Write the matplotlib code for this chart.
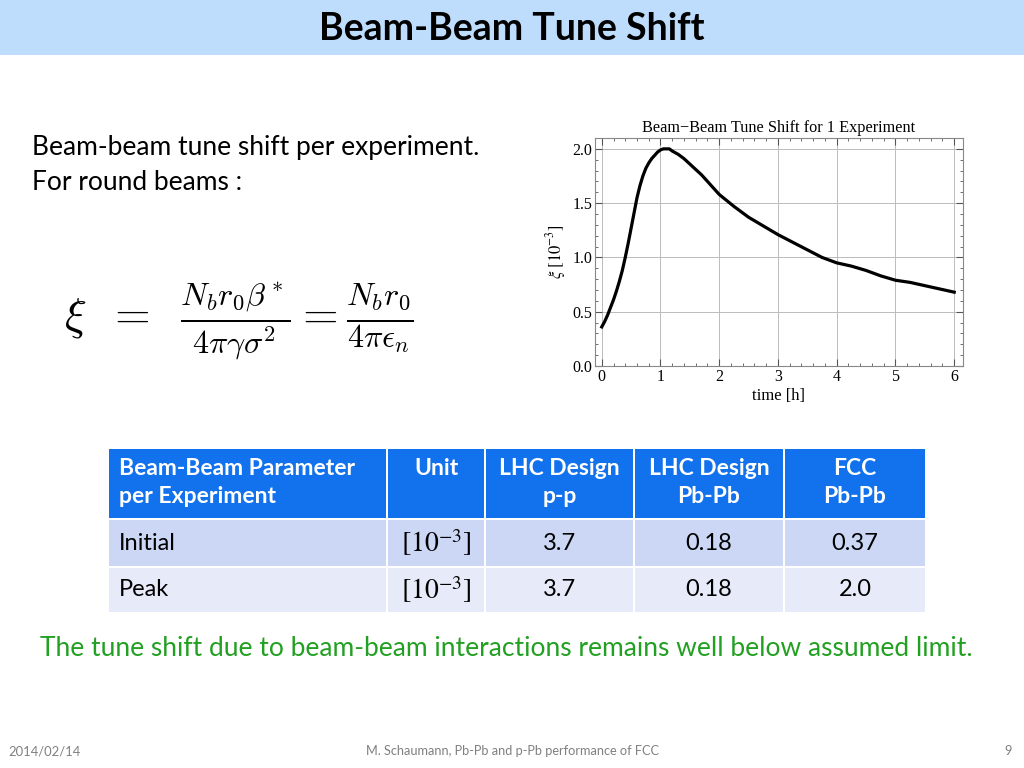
import matplotlib
matplotlib.use("Agg")
import matplotlib.pyplot as plt
from matplotlib.patches import Rectangle
from matplotlib.ticker import MultipleLocator

# curve
t_hours = [0.0, 0.05, 0.1, 0.15, 0.2, 0.25, 0.3, 0.35, 0.4, 0.45, 0.5, 0.55, 0.6, 0.65, 0.7,
           0.75, 0.8, 0.85, 0.9, 0.95, 1.0, 1.05, 1.1, 1.15, 1.2, 1.3, 1.4, 1.5, 1.6, 1.7,
           1.8, 1.9, 2.0, 2.25, 2.5, 2.75, 3.0, 3.25, 3.5, 3.75, 4.0, 4.25, 4.5, 4.75, 5.0,
           5.25, 5.5, 5.75, 6.0]
xi_values = [0.36, 0.41, 0.47, 0.54, 0.61, 0.69, 0.78, 0.88, 1.0, 1.13, 1.27, 1.41, 1.55, 1.66, 1.75,
             1.82, 1.87, 1.91, 1.94, 1.97, 1.99, 2.0, 2.0, 2.0, 1.98, 1.95, 1.91, 1.86, 1.81, 1.76,
             1.70, 1.64, 1.58, 1.47, 1.37, 1.29, 1.21, 1.14, 1.07, 1.0, 0.95, 0.92, 0.88, 0.83, 0.79,
             0.77, 0.74, 0.71, 0.68]

# table contents
col_headers = ["Beam-Beam Parameter\nper Experiment", "Unit", "LHC Design\np-p", "LHC Design\nPb-Pb", "FCC\nPb-Pb"]
row_names = ["Initial", "Peak"]
row_units = [r"$[10^{-3}]$", r"$[10^{-3}]$"]
lhc_pp = ["3.7", "3.7"]
lhc_pbpb = ["0.18", "0.18"]
fcc_pbpb = ["0.37", "2.0"]

sans = ["Lato", "DejaVu Sans"]
serif = "Liberation Serif"

fig = plt.figure(figsize=(10.24, 7.68), dpi=100)
bg = fig.add_axes([0, 0, 1, 1])
bg.set_xlim(0, 1024)
bg.set_ylim(768, 0)
bg.axis("off")

# title bar
bg.add_patch(Rectangle((0, 0), 1024, 55, color="#BEDDFD", lw=0))
bg.text(512, 29, "Beam-Beam Tune Shift", ha="center", va="center", fontsize=27,
        fontweight="bold", family=sans)

bg.text(32, 148, "Beam-beam tune shift per experiment.", ha="left", va="center", fontsize=19, family=sans)
bg.text(32, 183, "For round beams :", ha="left", va="center", fontsize=19, family=sans)

bg.text(64, 321, r"$\xi\;\;=\;\;\frac{N_b r_0 \beta^*}{4\pi\gamma\sigma^2} = \frac{N_b r_0}{4\pi\epsilon_n}$",
        ha="left", va="center", fontsize=33, math_fontfamily="cm")

# table
col_x = [109, 388, 486, 635, 785, 927]
row_y = [449, 520, 568, 614]
row_colors = ["#CBD7F4", "#E7EBF9"]
for j in range(5):
    x0, x1 = col_x[j], col_x[j + 1] - 2
    bg.add_patch(Rectangle((x0, row_y[0]), x1 - x0, row_y[1] - 2 - row_y[0], color="#1271EC", lw=0))
    ha = "left" if j == 0 else "center"
    tx = x0 + 10 if j == 0 else (x0 + x1) / 2
    bg.text(tx, row_y[0] + 9, col_headers[j], ha=ha, va="top", color="white", fontsize=16.5,
            fontweight="bold", family=sans, linespacing=1.4)
for i in range(2):
    cells = [row_names[i], row_units[i], lhc_pp[i], lhc_pbpb[i], fcc_pbpb[i]]
    y0, y1 = row_y[i + 1], row_y[i + 2] - 2
    for j in range(5):
        x0, x1 = col_x[j], col_x[j + 1] - 2
        bg.add_patch(Rectangle((x0, y0), x1 - x0, y1 - y0, color=row_colors[i], lw=0))
        ha = "left" if j == 0 else "center"
        tx = x0 + 10 if j == 0 else (x0 + x1) / 2
        fs = 20 if j == 1 else 17
        bg.text(tx, (y0 + y1) / 2, cells[j], ha=ha, va="center", fontsize=fs, family=sans,
                math_fontfamily="stix")

bg.text(506, 648, "The tune shift due to beam-beam interactions remains well below assumed limit.",
        ha="center", va="center", fontsize=19, color="#22A022", family=sans)

# footer
bg.text(8, 751, "2014/02/14", ha="left", va="center", fontsize=9.4, color="#808080", family=sans)
bg.text(512, 751, "M. Schaumann, Pb-Pb and p-Pb performance of FCC", ha="center", va="center",
        fontsize=9.2, color="#808080", family=sans)
bg.text(1012, 751, "9", ha="right", va="center", fontsize=9.4, color="#808080", family=sans)

# chart
ax = fig.add_axes([595 / 1024, 1 - 366 / 768, 368 / 1024, 228 / 768])
ax.plot(t_hours, xi_values, color="black", lw=2.3)
ax.set_xlim(-0.115, 6.15)
ax.set_ylim(0, 2.1)
ax.xaxis.set_major_locator(MultipleLocator(1))
ax.xaxis.set_minor_locator(MultipleLocator(0.2))
ax.yaxis.set_major_locator(MultipleLocator(0.5))
ax.yaxis.set_minor_locator(MultipleLocator(0.1))
ax.set_yticks([0, 0.5, 1.0, 1.5, 2.0])
ax.set_yticklabels(["0.0", "0.5", "1.0", "1.5", "2.0"])
ax.grid(True, which="major", color="#BBBBBB", lw=0.7)
ax.tick_params(which="both", direction="in", top=True, right=True, labelsize=11.5, pad=2,
               color="#555555")
ax.tick_params(which="major", length=5)
ax.tick_params(which="minor", length=2.5)
for lab in ax.get_xticklabels() + ax.get_yticklabels():
    lab.set_family(serif)
for sp in ax.spines.values():
    sp.set_color("#888888")
    sp.set_linewidth(0.8)
ax.set_title("Beam\u2212Beam Tune Shift for 1 Experiment", fontsize=11.7, family=serif, pad=4)
ax.set_xlabel("time [h]", fontsize=12, family=serif, labelpad=2)
ax.set_ylabel(r"$\xi\ [10^{-3}]$", fontsize=12, family=serif, labelpad=3)
ax.yaxis.label.set_math_fontfamily("stix")

fig.savefig("out.png", dpi=100)
